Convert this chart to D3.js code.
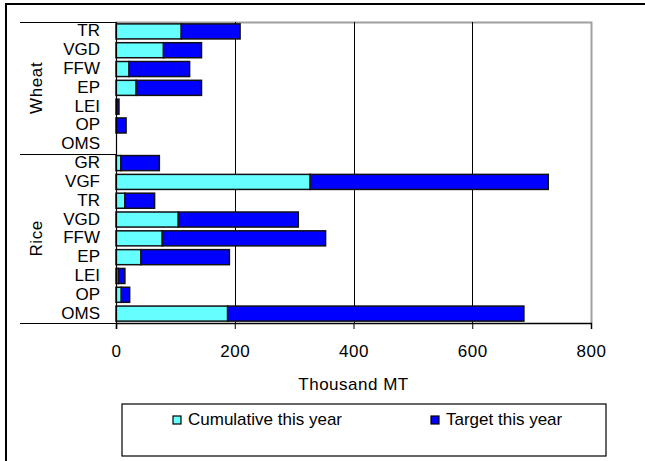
<!DOCTYPE html>
<html>
<head>
<meta charset="utf-8">
<script src="https://cdn.jsdelivr.net/npm/d3@7"></script>
<style>
  html, body { margin: 0; padding: 0; background: #fff; }
  svg { display: block; font-family: "Liberation Sans", Arial, sans-serif; }
  text { fill: #000; }
</style>
</head>
<body>
<svg id="chart" width="645" height="461"></svg>
<script>
// Food grain distribution by programme, thousand metric tonnes
const groupNames = ["Wheat", "Rice"];
const wheatCategories = ["TR", "VGD", "FFW", "EP", "LEI", "OP", "OMS"];
const riceCategories = ["GR", "VGF", "TR", "VGD", "FFW", "EP", "LEI", "OP", "OMS"];
const wheatCumulative = [110, 80, 22, 34, 0, 0, 0];
const wheatTarget = [99, 64, 102, 110, 5, 17, 0];
const riceCumulative = [8, 327, 15, 105, 78, 42, 4, 9, 188];
const riceTarget = [65, 401, 50, 202, 275, 149, 11, 14, 499];
const xTicks = [0, 200, 400, 600, 800];
const seriesNames = ["Cumulative this year", "Target this year"];
const seriesColors = ["#66FFFF", "#0000FF"];
const xTitle = "Thousand MT";

// Flatten into one row per bar, top to bottom
const rows = [];
wheatCategories.forEach((c, i) => rows.push({ key: "w" + i, group: 0, label: c, values: [wheatCumulative[i], wheatTarget[i]] }));
riceCategories.forEach((c, i) => rows.push({ key: "r" + i, group: 1, label: c, values: [riceCumulative[i], riceTarget[i]] }));

const svg = d3.select("#chart");
const plotLeft = 116, plotRight = 591, plotTop = 22, plotBottom = 323;
const FONT = 17;

const x = d3.scaleLinear().domain([0, 800]).range([plotLeft, plotRight]);
const y = d3.scaleBand().domain(rows.map(r => r.key)).range([plotTop, plotBottom])
  .paddingInner(0.2).paddingOuter(0.1);

// Outer frame
svg.append("rect").attr("x", 6).attr("y", 4).attr("width", 660).attr("height", 480)
  .attr("fill", "none").attr("stroke", "#000").attr("stroke-width", 2);

// Plot area border (top and right in grey)
svg.append("path")
  .attr("d", `M${plotLeft},${plotTop + 0.5}H${plotRight + 0.5}V${plotBottom}`)
  .attr("fill", "none").attr("stroke", "#a0a0a0").attr("stroke-width", 2);

// Vertical gridlines
svg.append("g").selectAll("line").data(xTicks.filter(t => t > 0 && t < 800)).join("line")
  .attr("x1", d => Math.round(x(d)) + 0.5).attr("x2", d => Math.round(x(d)) + 0.5)
  .attr("y1", plotTop).attr("y2", plotBottom)
  .attr("stroke", "#000").attr("stroke-width", 1);

// Stacked bars
const stackData = rows.map(r => {
  let acc = 0;
  return r.values.map((v, s) => { const seg = { key: r.key, s, x0: acc, x1: acc + v }; acc += v; return seg; });
}).flat().filter(d => d.x1 > d.x0);

svg.append("g").selectAll("rect").data(stackData).join("rect")
  .attr("x", d => x(d.x0))
  .attr("y", d => y(d.key))
  .attr("width", d => x(d.x1) - x(d.x0))
  .attr("height", y.bandwidth())
  .attr("fill", d => seriesColors[d.s])
  .attr("stroke", "#111").attr("stroke-width", 1.5);

// X axis
const xAxis = svg.append("g").attr("transform", `translate(0,${plotBottom})`)
  .call(d3.axisBottom(x).tickValues(xTicks).tickSize(6).tickFormat(d3.format("d")));
xAxis.select(".domain").attr("stroke", "#000").attr("stroke-width", 1.5);
xAxis.selectAll(".tick line").attr("stroke", "#000");
xAxis.selectAll(".tick text")
  .attr("y", 34).attr("dy", null)
  .attr("font-size", FONT).attr("letter-spacing", 0.5)
  .attr("font-family", "Liberation Sans, Arial, sans-serif").attr("fill", "#000");

// Y axis line
svg.append("line").attr("x1", plotLeft + 0.5).attr("x2", plotLeft + 0.5).attr("y1", plotTop).attr("y2", plotBottom + 6)
  .attr("stroke", "#000").attr("stroke-width", 1.2);

// Category labels
svg.append("g").selectAll("text").data(rows).join("text")
  .attr("x", 100)
  .attr("y", d => y(d.key) + y.bandwidth() / 2 + 5)
  .attr("text-anchor", "end")
  .attr("font-size", FONT)
  .text(d => d.label);

// Group separators and group labels
const step = y.step();
const boundaries = [plotTop, plotTop + wheatCategories.length * step, plotBottom];
svg.append("g").selectAll("line").data(boundaries).join("line")
  .attr("x1", 20).attr("x2", plotLeft)
  .attr("y1", d => Math.round(d) + 0.5).attr("y2", d => Math.round(d) + 0.5)
  .attr("stroke", "#000").attr("stroke-width", 1.2);

svg.append("g").selectAll("text").data(groupNames).join("text")
  .attr("transform", (d, i) => `translate(42,${(boundaries[i] + boundaries[i + 1]) / 2}) rotate(-90)`)
  .attr("text-anchor", "middle")
  .attr("font-size", FONT).attr("letter-spacing", 0.6)
  .text(d => d);

// Axis title
svg.append("text").attr("x", (plotLeft + plotRight) / 2).attr("y", 390)
  .attr("text-anchor", "middle").attr("font-size", FONT).attr("letter-spacing", 0.5).text(xTitle);

// Legend
svg.append("rect").attr("x", 122).attr("y", 404).attr("width", 484).attr("height", 52)
  .attr("fill", "#fff").attr("stroke", "#000").attr("stroke-width", 1.2);
const legendX = [173, 431];
const legend = svg.append("g").selectAll("g").data(seriesNames).join("g")
  .attr("transform", (d, i) => `translate(${legendX[i]},416)`);
legend.append("rect").attr("width", 8).attr("height", 8)
  .attr("fill", (d, i) => seriesColors[i]).attr("stroke", "#000").attr("stroke-width", 1.2);
legend.append("text").attr("x", 15).attr("y", 9).attr("font-size", FONT).text(d => d);
</script>
</body>
</html>
